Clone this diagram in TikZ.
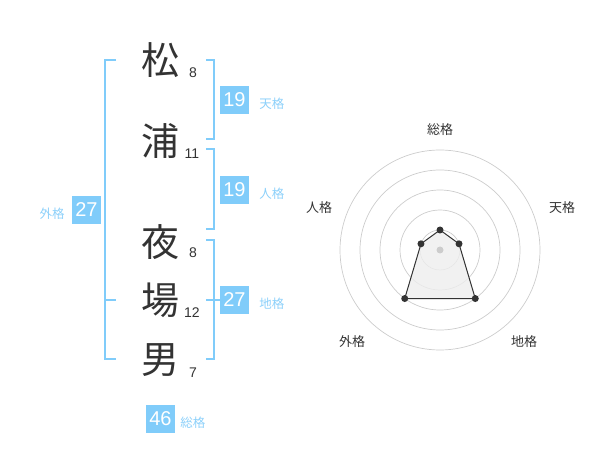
\documentclass[tikz,border=0pt]{standalone}
\usepackage{fontspec}
\setmainfont{Liberation Sans}
\newfontfamily\jp{Noto Sans CJK JP}
\usetikzlibrary{positioning,calc}
\definecolor{ink}{HTML}{333333}
\definecolor{sky}{HTML}{80CCFA}
\definecolor{pale}{HTML}{8CD0FA}
\definecolor{grid}{HTML}{CCCCCC}
\definecolor{shade}{HTML}{EEEEEE}

\begin{document}
\begin{tikzpicture}[x=1pt,y=-1pt,
   kanji/.style={inner sep=0pt,text=ink,font=\jp\fontsize{38}{38}\selectfont},
   strokes/.style={inner sep=0pt,text=ink,font=\fontsize{14}{14}\selectfont},
   score/.style={fill=sky,text=white,inner sep=0pt,minimum width=29pt,minimum height=28pt,font=\fontsize{20}{20}\selectfont},
   tag/.style={inner sep=0pt,text=pale,yshift=-4pt,font=\jp\fontsize{12.5}{12.5}\selectfont},
   axis/.style={inner sep=0pt,text=ink,font=\jp\fontsize{13}{13}\selectfont},
   bracket/.style={draw=sky,line width=2pt},
   ring/.style={draw=grid,line width=0.7pt},
   dot/.style={circle,fill=ink,inner sep=0pt,minimum size=7pt}]
  \useasboundingbox (0,0) rectangle (600,470);
  % name
  \node[kanji] (k1) at (160,60)  {松};
  \node[kanji] (k2) at (160,141) {浦};
  \node[kanji] (k3) at (160,242) {夜};
  \node[kanji] (k4) at (160,300) {場};
  \node[kanji] (k5) at (160,360) {男};
  \node[strokes] (s1) at (193,73)  {8};
  \node[strokes] (s2) at (192,154) {11};
  \node[strokes] (s3) at (193,253) {8};
  \node[strokes] (s4) at (192,313) {12};
  \node[strokes] (s5) at (193,373) {7};
  % brackets
  \draw[bracket] (116,60) -- (105,60) -- (105,359) -- (116,359);
  \draw[bracket] (105,300) -- (116,300);
  \draw[bracket] (206,60) -- (214,60) -- (214,139) -- (206,139);
  \draw[bracket] (206,149) -- (214,149) -- (214,229) -- (206,229);
  \draw[bracket] (206,240) -- (214,240) -- (214,359) -- (206,359);
  \draw[bracket] (206,300) -- (220,300);
  % scores
  \node[score] (ten) at (234.5,100) {19};
  \node[tag,right=10pt of ten] {天格};
  \node[score] (jin) at (234.5,190) {19};
  \node[tag,right=10pt of jin] {人格};
  \node[score] (chi) at (234.5,300) {27};
  \node[tag,right=10pt of chi] {地格};
  \node[score] (gai) at (86.5,210) {27};
  \node[tag,left=7pt of gai] {外格};
  \node[score] (sou) at (160.5,419) {46};
  \node[tag,right=5pt of sou] {総格};
  % radar
  \coordinate (c) at (440,250);
  \foreach \r in {20,40,60,80,100}
    \draw[ring] (c) circle[radius=\r];
  \coordinate (p1) at ($(c)+(-90:20)$);
  \coordinate (p2) at ($(c)+(-18:20)$);
  \coordinate (p3) at ($(c)+(54:60)$);
  \coordinate (p4) at ($(c)+(126:60)$);
  \coordinate (p5) at ($(c)+(198:20)$);
  \draw[ink,line width=1pt,fill=shade,fill opacity=0.8] (p1) -- (p2) -- (p3) -- (p4) -- (p5) -- cycle;
  \fill[grid] (c) circle[radius=3.5];
  \foreach \p in {p1,p2,p3,p4,p5}
    \node[dot] at (\p) {};
  \node[axis] at (440,130) {総格};
  \node[axis] at (562,208) {天格};
  \node[axis] at (524,342) {地格};
  \node[axis] at (352,342) {外格};
  \node[axis] at (319,208) {人格};
\end{tikzpicture}
\end{document}
